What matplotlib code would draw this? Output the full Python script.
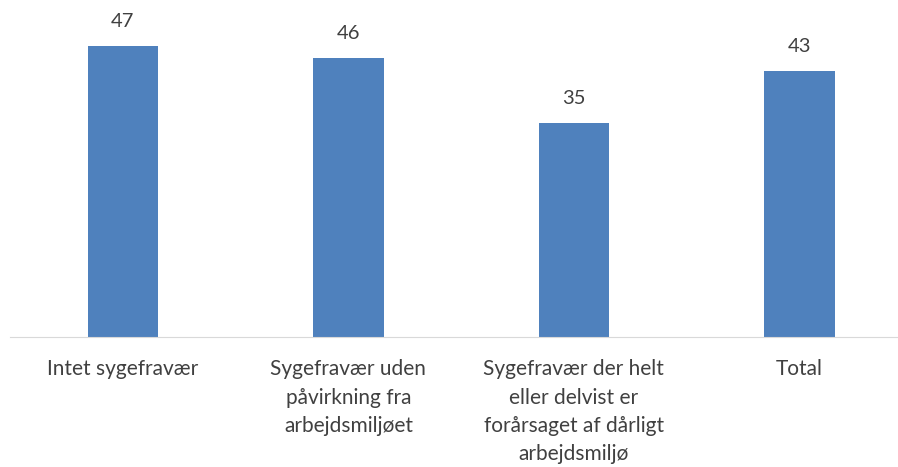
import matplotlib
matplotlib.use("Agg")
import matplotlib.pyplot as plt

plt.rcParams['font.family'] = ['Lato', 'DejaVu Sans']

categories = [
    "Intet sygefravær",
    "Sygefravær uden\npåvirkning fra\narbejdsmiljøet",
    "Sygefravær der helt\neller delvist er\nforårsaget af dårligt\narbejdsmiljø",
    "Total",
]
values = [47.45, 45.52, 34.9, 43.4]

fig = plt.figure(figsize=(8.98, 4.67), dpi=100)
ax = fig.add_axes([0.011, 0.2784, 0.989, 0.656])

x = list(range(len(values)))
bars = ax.bar(x, values, width=0.312, color='#4F81BD')

for rect, v in zip(bars, values):
    ax.text(rect.get_x() + rect.get_width() / 2, v + 2.6, f"{v:.0f}",
            ha='center', va='bottom', fontsize=14.5, color='#404040')

ax.set_xlim(-0.501, 3.437)
ax.set_ylim(0, 50)
ax.set_xticks(x)
ax.set_xticklabels(categories, fontsize=15, color='#404040', linespacing=1.52)
ax.tick_params(axis='x', length=0, pad=16)
ax.set_yticks([])
for side in ['top', 'right', 'left']:
    ax.spines[side].set_visible(False)
ax.spines['bottom'].set_color('#D9D9D9')

fig.savefig("out.png", dpi=100)
